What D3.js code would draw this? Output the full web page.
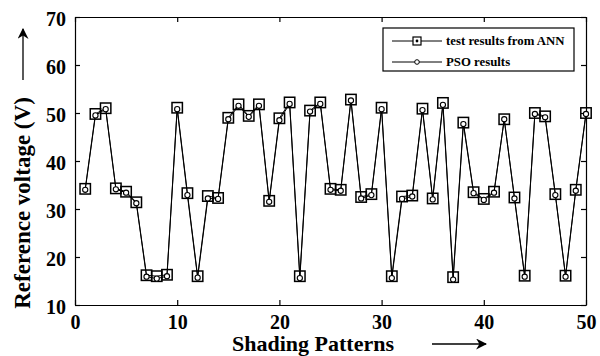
<!DOCTYPE html>
<html>
<head>
<meta charset="utf-8">
<script src="https://cdn.jsdelivr.net/npm/d3@7"></script>
</head>
<body style="margin:0; background:#fff">
<div id="chart-area"></div>
<script>
// shading pattern index 1..50
const patterns = d3.range(1, 51);

const annValues = [34.2, 49.8, 51.0, 34.3, 33.6, 31.4, 16.2, 16.0, 16.3, 51.1,
    33.3, 16.0, 32.7, 32.3, 49.0, 51.8, 49.4, 51.8, 31.7, 48.9,
    52.2, 16.0, 50.5, 52.2, 34.2, 34.0, 52.8, 32.5, 33.1, 51.1,
    16.0, 32.6, 32.8, 50.9, 32.2, 52.1, 15.8, 48.0, 33.5, 32.1,
    33.6, 48.7, 32.4, 16.1, 50.0, 49.3, 33.1, 16.1, 34.0, 50.0];

const psoValues = [34.0, 49.5, 50.8, 34.1, 33.4, 31.2, 15.9, 15.5, 16.0, 50.8,
    32.9, 15.7, 32.2, 32.1, 48.7, 51.5, 49.2, 51.5, 31.5, 48.5,
    51.9, 15.6, 50.3, 51.9, 34.0, 33.8, 52.6, 32.2, 32.9, 50.8,
    15.6, 32.1, 32.6, 50.6, 32.0, 51.7, 15.3, 47.7, 33.3, 31.9,
    33.4, 48.7, 32.2, 15.9, 49.8, 49.1, 32.9, 15.9, 33.8, 49.8];

const xTicks = [0, 10, 20, 30, 40, 50];
const yTicks = [10, 20, 30, 40, 50, 60, 70];
const legendLabels = ['test results from ANN', 'PSO results'];

const serif = 'Liberation Serif';

window.addEventListener('DOMContentLoaded', () => {

    const margin = { top: 17, right: 14, bottom: 51, left: 75 };
    const width = 600 - margin.left - margin.right;
    const height = 356 - margin.top - margin.bottom;

    const svg = d3.select('#chart-area')
        .append('svg')
        .attr('width', 600)
        .attr('height', 356)
        .attr('font-family', serif)
        .attr('font-weight', 'bold');

    const chart = svg.append('g')
        .attr('transform', `translate(${margin.left},${margin.top})`);

    const x = d3.scaleLinear().domain([0, 50]).range([0, width]);
    const y = d3.scaleLinear().domain([10, 70]).range([height, 0]);

    // box axes, ticks pointing inward
    chart.append('g')
        .attr('transform', `translate(0,${height})`)
        .call(d3.axisBottom(x).tickValues(xTicks).tickSize(-5).tickPadding(10).tickSizeOuter(0));

    chart.append('g')
        .call(d3.axisLeft(y).tickValues(yTicks).tickSize(-5).tickPadding(9).tickSizeOuter(0))
        .call(g => g.selectAll('text').attr('dy', '0.42em'));

    chart.append('g')
        .call(d3.axisTop(x).tickValues(xTicks).tickSize(-5).tickFormat('').tickSizeOuter(0));

    chart.append('g')
        .attr('transform', `translate(${width},0)`)
        .call(d3.axisRight(y).tickValues(yTicks).tickSize(-5).tickFormat('').tickSizeOuter(0));

    chart.selectAll('.domain, .tick line').attr('stroke', '#000').attr('stroke-width', 1.2);
    chart.selectAll('.tick text')
        .attr('fill', '#000')
        .attr('font-family', serif)
        .attr('font-weight', 'bold')
        .attr('font-size', 20);

    const line = d3.line()
        .x((d, i) => x(patterns[i]))
        .y(d => y(d));

    chart.append('path')
        .datum(psoValues)
        .attr('fill', 'none')
        .attr('stroke', '#000')
        .attr('stroke-width', 1)
        .attr('d', line);

    chart.append('path')
        .datum(annValues)
        .attr('fill', 'none')
        .attr('stroke', '#000')
        .attr('stroke-width', 1)
        .attr('d', line);

    // ANN markers: squares
    chart.selectAll('.ann')
        .data(annValues)
        .enter()
        .append('rect')
        .attr('class', 'ann')
        .attr('x', (d, i) => x(patterns[i]) - 5.2)
        .attr('y', d => y(d) - 5.2)
        .attr('width', 10.4)
        .attr('height', 10.4)
        .attr('fill', 'none')
        .attr('stroke', '#000')
        .attr('stroke-width', 1.5);

    // PSO markers: small circles
    chart.selectAll('.pso')
        .data(psoValues)
        .enter()
        .append('circle')
        .attr('class', 'pso')
        .attr('cx', (d, i) => x(patterns[i]))
        .attr('cy', d => y(d))
        .attr('r', 2.6)
        .attr('fill', '#fff')
        .attr('stroke', '#000')
        .attr('stroke-width', 1.1);

    // legend
    const legend = svg.append('g').attr('transform', 'translate(383,28)');
    legend.append('rect')
        .attr('width', 191)
        .attr('height', 43)
        .attr('fill', '#fff')
        .attr('stroke', '#000')
        .attr('stroke-width', 1.2);

    legendLabels.forEach((label, i) => {
        const ly = 13 + i * 21;
        legend.append('line')
            .attr('x1', 9).attr('x2', 59)
            .attr('y1', ly).attr('y2', ly)
            .attr('stroke', '#000');
        if (i === 0) {
            legend.append('rect')
                .attr('x', 30).attr('y', ly - 4)
                .attr('width', 8).attr('height', 8)
                .attr('fill', '#fff').attr('stroke', '#000').attr('stroke-width', 1.2);
            legend.append('circle')
                .attr('cx', 34).attr('cy', ly).attr('r', 1.4).attr('fill', '#000');
        } else {
            legend.append('circle')
                .attr('cx', 34).attr('cy', ly).attr('r', 2.3)
                .attr('fill', '#fff').attr('stroke', '#000');
        }
        legend.append('text')
            .attr('x', 63)
            .attr('y', ly + 4)
            .attr('font-family', serif)
            .attr('font-weight', 'bold')
            .attr('font-size', 12.8)
            .text(label);
    });

    // axis titles with arrows
    svg.append('defs').append('marker')
        .attr('id', 'arrow')
        .attr('viewBox', '0 0 10 10')
        .attr('refX', 9).attr('refY', 5)
        .attr('markerWidth', 11).attr('markerHeight', 11)
        .attr('markerUnits', 'userSpaceOnUse')
        .attr('orient', 'auto')
        .append('path')
        .attr('d', 'M0,0 L10,5 L0,10 L3,5 Z')
        .attr('fill', '#000');

    svg.append('text')
        .attr('x', 313)
        .attr('y', 351)
        .attr('text-anchor', 'middle')
        .attr('font-family', serif)
        .attr('font-weight', 'bold')
        .attr('font-size', 22)
        .text('Shading Patterns');

    svg.append('line')
        .attr('x1', 432).attr('x2', 486)
        .attr('y1', 344).attr('y2', 344)
        .attr('stroke', '#000').attr('stroke-width', 1.3)
        .attr('marker-end', 'url(#arrow)');

    svg.append('text')
        .attr('transform', 'translate(30,203) rotate(-90)')
        .attr('text-anchor', 'middle')
        .attr('font-family', serif)
        .attr('font-weight', 'bold')
        .attr('font-size', 23)
        .text('Reference voltage (V)');

    svg.append('line')
        .attr('x1', 23).attr('x2', 23)
        .attr('y1', 80).attr('y2', 29)
        .attr('stroke', '#000').attr('stroke-width', 1.3)
        .attr('marker-end', 'url(#arrow)');

}); // End of document ready.
</script>
</body>
</html>
